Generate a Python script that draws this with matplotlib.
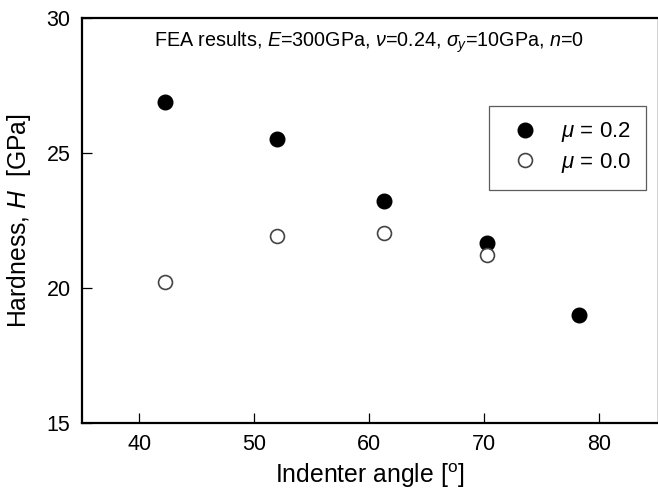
import matplotlib
matplotlib.use("Agg")
import matplotlib.pyplot as plt

plt.rcParams['font.family'] = ['Liberation Sans', 'DejaVu Sans']
plt.rcParams['mathtext.fontset'] = 'custom'
plt.rcParams['mathtext.rm'] = 'Liberation Sans'
plt.rcParams['mathtext.it'] = 'Liberation Sans:italic'

angles_mu02 = [42.2, 52.0, 61.3, 70.2, 78.2]
hardness_mu02 = [26.87, 25.5, 23.22, 21.65, 19.0]
angles_mu00 = [42.2, 52.0, 61.3, 70.2]
hardness_mu00 = [20.19, 21.92, 22.02, 21.22]

xticks = [40, 50, 60, 70, 80]
yticks = [15, 20, 25, 30]

fig = plt.figure(figsize=(6.58, 4.92), dpi=100)
ax = fig.add_axes([0.1242, 0.1409, 0.8743, 0.8235])

ax.plot(angles_mu02, hardness_mu02, 'o', ms=10.5, mfc='black', mec='black',
        label=r'$\mu$ = 0.2')
ax.plot(angles_mu00, hardness_mu00, 'o', ms=10, mfc='white', mec='#444444',
        mew=1.2, label=r'$\mu$ = 0.0')

ax.set_xlim(35, 85)
ax.set_ylim(15, 30)
ax.set_xticks(xticks)
ax.set_yticks(yticks)
ax.tick_params(direction='in', length=7, width=0.9, labelsize=15.5, pad=8)

for side in ['left', 'bottom', 'top']:
    ax.spines[side].set_linewidth(1.6)
ax.spines['right'].set_linewidth(0.6)
ax.spines['right'].set_color('#cccccc')

ax.set_xlabel(r'Indenter angle [$\mathregular{^o}$]', fontsize=17.8, labelpad=5)
ax.set_ylabel(r'Hardness, $H$  [GPa]', fontsize=17.8, labelpad=10)

ax.text(0.5, 0.94,
        r'FEA results, $E$=300GPa, $\nu$=0.24, $\sigma_y$=10GPa, $n$=0',
        transform=ax.transAxes, ha='center', va='center', fontsize=14.2)

leg = ax.legend(loc='upper right', bbox_to_anchor=(0.980, 0.7816),
                borderaxespad=0.0,
                fontsize=16, frameon=True, fancybox=False,
                edgecolor='#333333', handletextpad=0.66, borderpad=0.65,
                labelspacing=0.3, handlelength=1.94, markerscale=1.0)
leg.get_frame().set_linewidth(0.9)

fig.savefig('out.png', dpi=100)
